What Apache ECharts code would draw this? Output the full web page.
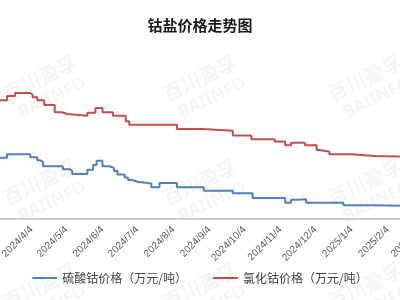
<!DOCTYPE html>
<html>
<head>
<meta charset="utf-8">
<script src="https://cdn.jsdelivr.net/npm/echarts@6/dist/echarts.min.js"></script>
<style>html,body{margin:0;padding:0;background:#fff}#c{width:400px;height:300px}</style>
</head>
<body>
<div id="c"></div>
<script>
// Change-point dates and values (万元/吨)
var coSulfateDates = ['2024-03-08','2024-03-14','2024-04-03','2024-04-09','2024-04-11','2024-04-14','2024-05-01','2024-05-07','2024-05-09','2024-05-22','2024-05-27','2024-05-30','2024-06-04','2024-06-10','2024-06-14','2024-06-17','2024-06-23','2024-06-26','2024-06-30','2024-07-04','2024-07-16','2024-07-23','2024-08-07','2024-08-30','2024-09-24','2024-10-11','2024-11-08','2024-11-13','2024-11-18','2024-11-26','2024-12-28','2025-01-23','2025-03-31'];
var coSulfateValues = [3.52,3.58,3.53,3.48,3.45,3.38,3.33,3.30,3.25,3.32,3.40,3.47,3.38,3.35,3.30,3.24,3.19,3.15,3.12,3.09,3.03,3.10,3.03,2.97,2.93,2.85,2.77,2.82,2.83,2.77,2.73,2.70,2.70];
var coChlorideDates = ['2024-03-08','2024-03-14','2024-03-21','2024-04-03','2024-04-05','2024-04-09','2024-04-15','2024-04-24','2024-04-30','2024-05-05','2024-05-22','2024-05-29','2024-06-04','2024-06-13','2024-06-24','2024-06-27','2024-08-07','2024-08-29','2024-09-24','2024-10-10','2024-10-30','2024-11-08','2024-11-13','2024-11-25','2024-12-05','2024-12-08','2024-12-16','2025-01-04','2025-01-24','2025-03-31'];
var coChlorideValues = [4.48,4.55,4.60,4.57,4.53,4.48,4.40,4.28,4.25,4.22,4.27,4.35,4.28,4.22,4.13,4.07,4.00,3.97,3.89,3.83,3.79,3.73,3.77,3.73,3.65,3.62,3.58,3.55,3.53,3.53];
var tickDates = ['2024-04-04','2024-05-04','2024-06-04','2024-07-04','2024-08-04','2024-09-04','2024-10-04','2024-11-04','2024-12-04','2025-01-04','2025-02-04','2025-03-04'];
var tickLabels = ['2024/4/4','2024/5/4','2024/6/4','2024/7/4','2024/8/4','2024/9/4','2024/10/4','2024/11/4','2024/12/4','2025/1/4','2025/2/4','2025/3/4'];
var seriesNames = ['硫酸钴价格（万元/吨）','氯化钴价格（万元/吨）'];
var titleText = '钴盐价格走势图';

function ts(s){ return echarts.time.parse(s).getTime(); }
function pairs(d, v){ return d.map(function(x,i){ return [ts(x), v[i]]; }); }
var tickTs = tickDates.map(ts);

var wmPos = [[40,78],[200,78],[365,78],[40,182],[200,182],[365,182],[40,286],[200,286],[365,286]];
var graphics = [];
wmPos.forEach(function(p){
  graphics.push({type:'text', x:p[0], y:p[1], rotation:0.45, silent:true, z:-10,
    style:{text:'百川盈孚', fill:'rgba(0,0,0,0.045)', font:'bold 20px "Noto Sans CJK SC"', align:'center', verticalAlign:'middle'}});
  graphics.push({type:'text', x:p[0]+12, y:p[1]+20, rotation:0.45, silent:true, z:-10,
    style:{text:'BAIINFO', fill:'rgba(0,0,0,0.045)', font:'bold 17px "Noto Sans"', align:'center', verticalAlign:'middle'}});
});

var chart = echarts.init(document.getElementById('c'), null, {renderer:'canvas'});
chart.setOption({
  animation:false,
  backgroundColor:'#fff',
  graphic: graphics,
  title:{text:titleText, left:'center', top:13,
    textStyle:{fontFamily:'"Noto Sans CJK SC"', fontSize:15, fontWeight:'bold', color:'#1a1a1a'}},
  legend:{bottom:11, left:'center', icon:'rect', itemWidth:25, itemHeight:2, itemGap:26,
    textStyle:{fontFamily:'"Noto Sans CJK SC"', fontSize:12, color:'#404040'},
    data:seriesNames},
  grid:{left:0, width:440, top:69, bottom:81, containLabel:false, outerBoundsMode:'none'},
  xAxis:{type:'value', min:ts('2024-03-08'), max:ts('2025-03-21'),
    axisLine:{lineStyle:{color:'#bfbfbf', width:1.5}},
    axisTick:{show:false},
    splitLine:{show:false},
    axisLabel:{customValues:tickTs, rotate:45, margin:9, fontSize:10, color:'#595959',
      fontFamily:'"Liberation Sans"', hideOverlap:false,
      formatter:function(v){ var i = tickTs.indexOf(+v); return i>=0 ? tickLabels[i] : ''; }}},
  yAxis:{type:'value', show:false, min:2.5, max:5.0, splitLine:{show:false}},
  series:[
    {name:seriesNames[0], type:'line', step:'end', showSymbol:false, data:pairs(coSulfateDates, coSulfateValues),
      lineStyle:{color:'#4F81BD', width:2}, itemStyle:{color:'#4F81BD'}},
    {name:seriesNames[1], type:'line', step:'end', showSymbol:false, data:pairs(coChlorideDates, coChlorideValues),
      lineStyle:{color:'#C0504D', width:2}, itemStyle:{color:'#C0504D'}}
  ]
});
</script>
</body>
</html>
